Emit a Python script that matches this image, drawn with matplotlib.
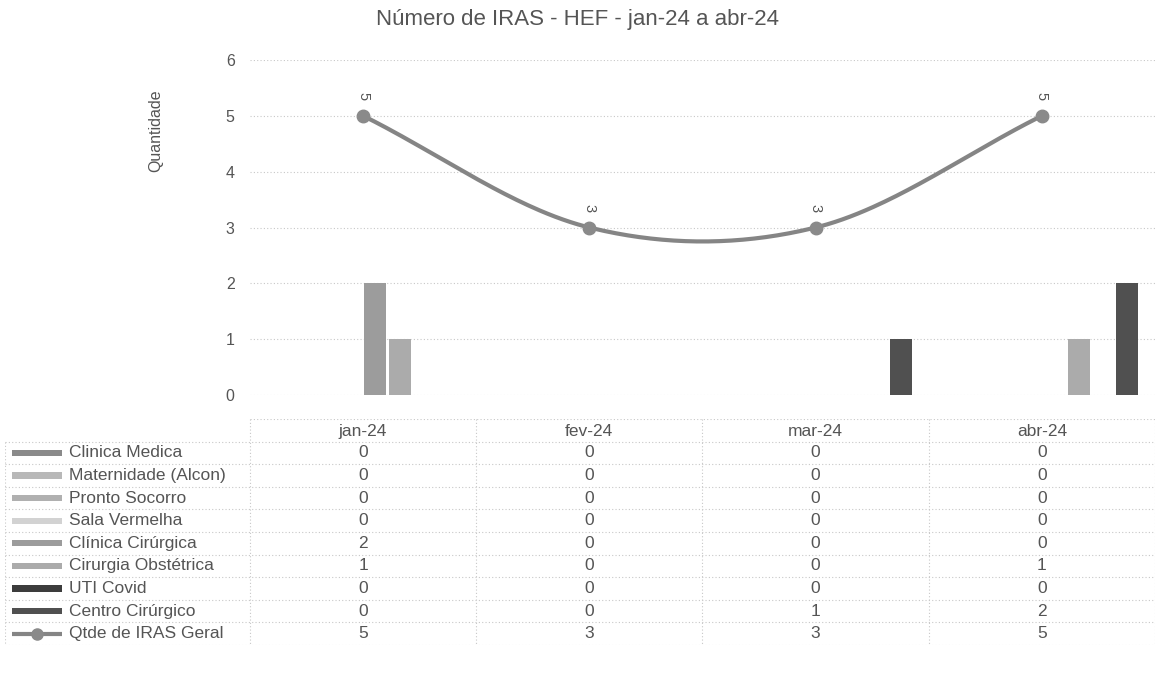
import numpy as np
import matplotlib
matplotlib.use("Agg")
import matplotlib.pyplot as plt
from matplotlib.patches import Rectangle

plt.rcParams['font.family'] = ['Liberation Sans', 'DejaVu Sans']

# ---- data ----
title = "Número de IRAS - HEF - jan-24 a abr-24"
months = ["jan-24", "fev-24", "mar-24", "abr-24"]
series_names = ["Clinica Medica", "Maternidade (Alcon)", "Pronto Socorro", "Sala Vermelha",
                "Clínica Cirúrgica", "Cirurgia Obstétrica", "UTI Covid", "Centro Cirúrgico"]
clinica_medica = [0, 0, 0, 0]
maternidade = [0, 0, 0, 0]
pronto_socorro = [0, 0, 0, 0]
sala_vermelha = [0, 0, 0, 0]
clinica_cirurgica = [2, 0, 0, 0]
cirurgia_obstetrica = [1, 0, 0, 1]
uti_covid = [0, 0, 0, 0]
centro_cirurgico = [0, 0, 1, 2]
line_name = "Qtde de IRAS Geral"
total = [5, 3, 3, 5]

series_vals = [clinica_medica, maternidade, pronto_socorro, sala_vermelha,
               clinica_cirurgica, cirurgia_obstetrica, uti_covid, centro_cirurgico]
bar_colors = ["#8a8a8a", "#b8b8b8", "#b0b0b0", "#d2d2d2",
              "#9c9c9c", "#ababab", "#3c3c3c", "#505050"]
line_color = "#858585"
text_color = "#555555"
grid_color = "#c8c8c8"

W, H = 1155, 696
fig = plt.figure(figsize=(W / 100, H / 100), dpi=100)

def fx(px):
    return px / W

def fy(py):
    return 1 - py / H

# main plot area in pixels
ax_l, ax_r, ax_t, ax_b = 250, 1155, 60, 395
ax = fig.add_axes([fx(ax_l), fy(ax_b), fx(ax_r - ax_l), fy(ax_t) - fy(ax_b)])
ax.set_xlim(-0.5, 3.5)
ax.set_ylim(0, 6)
x = np.arange(len(months))

# bars
nser = len(series_vals)
step = 0.108
bw = 0.097
for i, (vals, c) in enumerate(zip(series_vals, bar_colors)):
    ax.bar(x + (i - (nser - 1) / 2) * step, vals, width=bw, color=c, zorder=2)

# smoothed line (Catmull-Rom / Hermite through the data points)
pts = np.array(total, dtype=float)
xs_s, ys_s = [], []
P = np.concatenate([[2 * pts[0] - pts[1]], pts, [2 * pts[-1] - pts[-2]]])
for k in range(len(pts) - 1):
    p0, p1, p2, p3 = P[k], P[k + 1], P[k + 2], P[k + 3]
    m1 = (p2 - p0) / 2
    m2 = (p3 - p1) / 2
    t = np.linspace(0, 1, 60)
    h00 = 2 * t**3 - 3 * t**2 + 1
    h10 = t**3 - 2 * t**2 + t
    h01 = -2 * t**3 + 3 * t**2
    h11 = t**3 - t**2
    xs_s.extend(x[k] + t)
    ys_s.extend(h00 * p1 + h10 * m1 + h01 * p2 + h11 * m2)
ax.plot(xs_s, ys_s, color=line_color, lw=3, zorder=3, solid_capstyle='round')
ax.plot(x, total, 'o', color="#8a8a8a", ms=9, zorder=4)
for xi, v in zip(x, total):
    ax.annotate(str(v), (xi, v), xytext=(0, 14), textcoords='offset points',
                ha='center', va='center', rotation=-90, fontsize=10.5, color=text_color)

ax.set_yticks(range(0, 7))
ax.grid(axis='y', color=grid_color, linestyle=(0, (1, 2)), lw=0.8, zorder=0)
ax.set_xticks([])
for s in ax.spines.values():
    s.set_visible(False)
ax.tick_params(axis='y', length=0, pad=11, labelsize=11.5, labelcolor=text_color)
ax.set_ylabel("Quantidade", fontsize=11.5, color=text_color)
ax.yaxis.set_label_coords(-0.096, 0.79)

fig.text(0.5, fy(20), title, ha='center', va='center', fontsize=16, color=text_color)

# ---- data table ----
tb_l, tb_r, tb_t = 5, 1155, 419
row_h = 22.6
nrows = 1 + nser + 1
tb_b = tb_t + nrows * row_h
tax = fig.add_axes([fx(tb_l), fy(tb_b), fx(tb_r - tb_l), fy(tb_t) - fy(tb_b)])
unit = (ax_r - ax_l) / 4.0
xl = -0.5 - (ax_l - tb_l) / unit
tax.set_xlim(xl, 3.5)
tax.set_ylim(nrows, 0)
tax.axis('off')
dot = dict(color=grid_color, linestyle=(0, (1, 2)), lw=0.8)

# horizontal lines
tax.plot([-0.5, 3.5], [0, 0], **dot)
for r in range(1, nrows + 1):
    tax.plot([xl, 3.5], [r, r], **dot)
# vertical lines
tax.plot([xl, xl], [1, nrows], **dot)
for vx in [-0.5, 0.5, 1.5, 2.5, 3.5]:
    tax.plot([vx, vx], [0, nrows], **dot)

cell_fs = 12.5
for j, m in enumerate(months):
    tax.text(j, 0.55, m, ha='center', va='center', fontsize=cell_fs, color=text_color)

key_x0 = xl + 7 / unit
key_w = 50 / unit
text_x = xl + 64 / unit
for i, (name, vals, c) in enumerate(zip(series_names, series_vals, bar_colors)):
    r = i + 1
    tax.add_patch(Rectangle((key_x0, r + 0.36), key_w, 0.28, color=c, lw=0))
    tax.text(text_x, r + 0.5, name, ha='left', va='center', fontsize=cell_fs, color=text_color)
    for j, v in enumerate(vals):
        tax.text(j, r + 0.5, str(v), ha='center', va='center', fontsize=cell_fs, color=text_color)

r = nrows - 1
tax.plot([key_x0, key_x0 + key_w], [r + 0.5, r + 0.5], color=line_color, lw=3, solid_capstyle='butt')
tax.plot([key_x0 + key_w / 2], [r + 0.5], 'o', color="#8a8a8a", ms=8)
tax.text(text_x, r + 0.5, line_name, ha='left', va='center', fontsize=cell_fs, color=text_color)
for j, v in enumerate(total):
    tax.text(j, r + 0.5, str(v), ha='center', va='center', fontsize=cell_fs, color=text_color)

fig.savefig("out.png", dpi=100, facecolor='white')
